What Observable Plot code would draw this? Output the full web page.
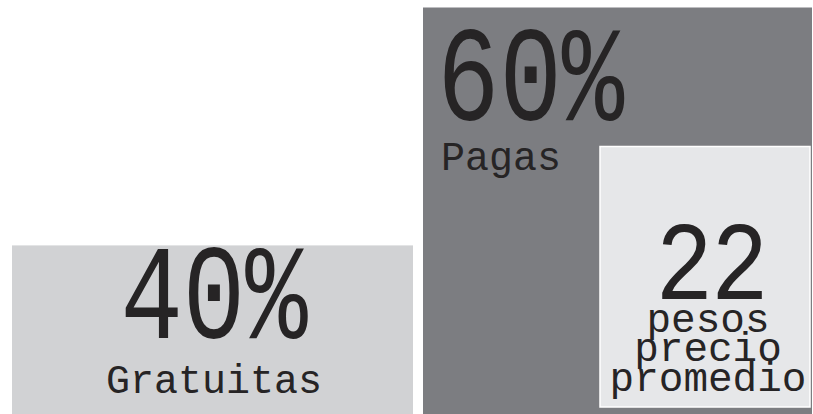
<!DOCTYPE html>
<html>
<head>
<meta charset="utf-8">
<script src="https://cdn.jsdelivr.net/npm/d3@7"></script>
<script src="https://cdn.jsdelivr.net/npm/@observablehq/plot@0.6"></script>
<style>
  html, body { margin: 0; padding: 0; background: #ffffff; }
  #chart svg { display: block; }
</style>
</head>
<body>
<div id="chart"></div>
<script>
// ---- data ----
const categories = ["Gratuitas", "Pagas"];
const shares = [40, 60];            // percent of apps
const averagePrice = 22;            // pesos, paid apps
const priceLabel = ["pesos", "precio", "promedio"];

// Gratuitas bar rises to its share; Pagas bar spans the whole total
const rows = categories.map((c, i) => ({
  cat: c,
  share: shares[i],
  top: i === 0 ? shares[0] : d3.sum(shares)
}));

const ink = "#262425";
const font = "Liberation Mono, Courier New, monospace";
const free = rows.filter(d => d.cat === "Gratuitas");
const paid = rows.filter(d => d.cat === "Pagas");

const chart = Plot.plot({
  width: 813,
  height: 414,
  marginLeft: 11,
  marginRight: 0,
  marginTop: 7.5,
  marginBottom: 0,
  x: { domain: categories, paddingInner: 0.0246, paddingOuter: 0, axis: null },
  y: { domain: [0, 100], axis: null },
  style: { background: "#ffffff" },
  marks: [
    Plot.barY(free, { x: "cat", y1: 0, y2: "top", fill: "#d1d2d4", insetRight: -6, insetTop: -6 }),
    Plot.barY(paid, { x: "cat", y1: 0, y2: "top", fill: "#7c7d81", insetLeft: 6 }),
    // inner price box inside the paid bar
    Plot.barY(paid, {
      x: "cat", y1: 0, y2: "top", fill: "#e6e7e9", stroke: "#ffffff", strokeWidth: 1.5,
      insetLeft: 183, insetRight: 2, insetTop: 139, insetBottom: 7
    }),
    // 40%
    Plot.text(free, {
      x: "cat", y: "top", text: d => d.share + "%", lineAnchor: "bottom",
      dy: 86, dx: 4, fontSize: 104, fontFamily: font, fill: ink, textAnchor: "middle"
    }),
    Plot.text(free, {
      x: "cat", y: "top", text: "cat", lineAnchor: "bottom",
      dy: 141, dx: 4, fontSize: 40, fontFamily: font, fill: ink, textAnchor: "middle"
    }),
    // 60%
    Plot.text(paid, {
      x: "cat", y: "top", text: d => d.share + "%", lineAnchor: "bottom",
      dy: 112, dx: -178, fontSize: 104, fontFamily: font, fill: ink, textAnchor: "start"
    }),
    Plot.text(paid, {
      x: "cat", y: "top", text: "cat", lineAnchor: "bottom",
      dy: 162, dx: -174, fontSize: 40, fontFamily: font, fill: ink, textAnchor: "start"
    }),
    // 22 pesos precio promedio
    Plot.text([averagePrice], {
      x: () => "Pagas", y: () => 0, text: d => String(d), lineAnchor: "bottom",
      dy: -116, dx: 96, fontSize: 96, fontFamily: font, fill: ink, textAnchor: "middle"
    }),
    Plot.text([priceLabel.join("\n")], {
      x: () => "Pagas", y: () => 0, text: d => d, lineAnchor: "bottom",
      dy: -24, dx: 93, fontSize: 41, lineHeight: 0.71, fontFamily: font, fill: ink, textAnchor: "middle"
    })
  ]
});

// tall, narrow typewriter numerals: stretch vertically about the baseline
d3.select(chart).selectAll("text").each(function () {
  const fs = parseFloat(d3.select(this.closest("g")).attr("font-size")) || 0;
  const t = d3.select(this);
  const tr = t.attr("transform") || "";
  if (fs > 100) t.attr("transform", tr + " scale(1,1.3)");
  else if (fs > 90) t.attr("transform", tr + " scale(1,1.15)").attr("letter-spacing", "-2px");
});

document.getElementById("chart").appendChild(chart);
</script>
</body>
</html>
